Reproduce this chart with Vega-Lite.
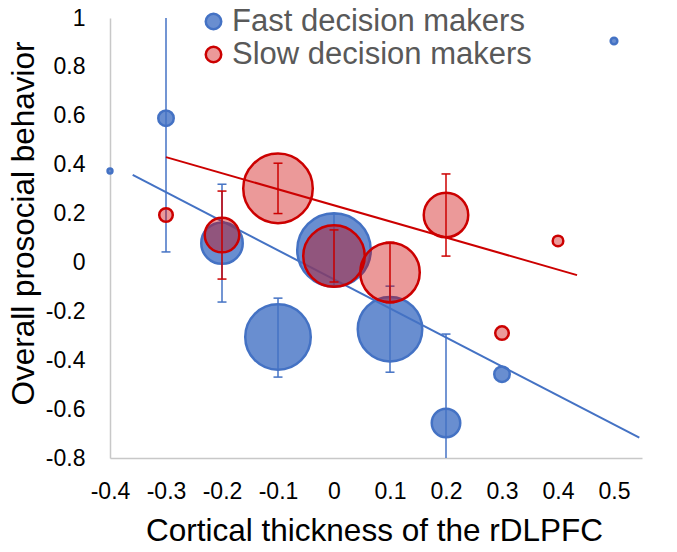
{
  "$schema": "https://vega.github.io/schema/vega-lite/v6.json",
  "width": 532,
  "height": 440,
  "autosize": "none",
  "padding": {"left": 110, "top": 18, "right": 35, "bottom": 94},
  "background": "white",
  "config": {
    "font": "Liberation Sans",
    "view": {"stroke": null},
    "axis": {
      "grid": false,
      "ticks": false,
      "tickSize": 0,
      "domainColor": "#C8C8C8",
      "domainWidth": 1.5,
      "labelFontSize": 23,
      "labelColor": "#000000",
      "labelOverlap": false,
      "labelFlush": false,
      "titleFontSize": 31.5,
      "titleFontWeight": "normal",
      "titleColor": "#000000"
    }
  },
  "datasets": {
    "pts": [
      {"group": "Fast decision makers", "x": -0.4, "y": 0.374, "n": 6},
      {"group": "Fast decision makers", "x": -0.3, "y": 0.59, "n": 60, "lo": 0.043, "hi": 1.137},
      {"group": "Fast decision makers", "x": -0.2, "y": 0.079, "n": 430, "lo": -0.162, "hi": 0.32},
      {"group": "Fast decision makers", "x": -0.1, "y": -0.305, "n": 1073, "lo": -0.469, "hi": -0.146},
      {"group": "Fast decision makers", "x": 0, "y": 0.051, "n": 1351, "lo": -0.096, "hi": 0.198},
      {"group": "Fast decision makers", "x": 0.1, "y": -0.273, "n": 1040, "lo": -0.449, "hi": -0.097},
      {"group": "Fast decision makers", "x": 0.2, "y": -0.657, "n": 203, "lo": -1.021, "hi": -0.293},
      {"group": "Fast decision makers", "x": 0.3, "y": -0.457, "n": 60},
      {"group": "Fast decision makers", "x": 0.5, "y": 0.906, "n": 11},
      {"group": "Slow decision makers", "x": -0.3, "y": 0.194, "n": 46},
      {"group": "Slow decision makers", "x": -0.2, "y": 0.112, "n": 298, "lo": -0.068, "hi": 0.292},
      {"group": "Slow decision makers", "x": -0.1, "y": 0.303, "n": 1208, "lo": 0.2, "hi": 0.406},
      {"group": "Slow decision makers", "x": 0, "y": 0.026, "n": 946, "lo": -0.08, "hi": 0.133},
      {"group": "Slow decision makers", "x": 0.1, "y": -0.041, "n": 885, "lo": -0.165, "hi": 0.083},
      {"group": "Slow decision makers", "x": 0.2, "y": 0.194, "n": 495, "lo": 0.026, "hi": 0.362},
      {"group": "Slow decision makers", "x": 0.3, "y": -0.289, "n": 46},
      {"group": "Slow decision makers", "x": 0.4, "y": 0.088, "n": 28}
    ],
    "trend": [
      {"group": "Fast decision makers", "x": -0.3595, "y": 0.358},
      {"group": "Fast decision makers", "x": 0.5452, "y": -0.717},
      {"group": "Slow decision makers", "x": -0.3, "y": 0.431},
      {"group": "Slow decision makers", "x": 0.434, "y": -0.052}
    ]
  },
  "encoding": {
    "x": {
      "field": "x",
      "type": "quantitative",
      "scale": {"domain": [-0.4, 0.55], "nice": false, "zero": false},
      "axis": {
        "values": [-0.4, -0.3, -0.2, -0.1, 0, 0.1, 0.2, 0.3, 0.4, 0.5],
        "labelExpr": "'' + datum.value",
        "labelPadding": 22,
        "title": "Cortical thickness of the rDLPFC",
        "titleX": 264,
        "titleY": 82,
        "titleBaseline": "alphabetic",
        "titleAnchor": "middle"
      }
    },
    "y": {
      "field": "y",
      "type": "quantitative",
      "scale": {"domain": [-0.8, 1], "nice": false, "zero": false},
      "axis": {
        "values": [-0.8, -0.6, -0.4, -0.2, 0, 0.2, 0.4, 0.6, 0.8, 1],
        "labelExpr": "'' + datum.value",
        "labelPadding": 25,
        "title": "Overall prosocial behavior",
        "titleAngle": -90,
        "titleX": -77,
        "titleY": 205,
        "titleBaseline": "alphabetic",
        "titleAlign": "center"
      }
    }
  },
  "layer": [
    {
      "data": {"name": "pts"},
      "transform": [{"filter": "datum.group == 'Fast decision makers'"}],
      "mark": {"type": "circle", "opacity": 1, "strokeWidth": 2.5},
      "encoding": {
        "size": {"field": "n", "type": "quantitative", "scale": {"type": "linear", "domain": [0, 1600], "range": [0, 6400]}, "legend": null},
        "fill": {
          "field": "group", "type": "nominal",
          "scale": {"domain": ["Fast decision makers", "Slow decision makers"], "range": ["rgba(68,114,196,0.8)", "rgba(204,0,0,0.4)"]},
          "legend": {"title": null, "orient": "none", "legendX": 88, "legendY": -12, "symbolType": "circle", "symbolSize": 240, "symbolStrokeWidth": 2.5, "labelFontSize": 31, "labelColor": "#595959", "labelOffset": 3, "labelLimit": 0, "rowPadding": 1, "padding": 0}
        },
        "stroke": {
          "field": "group", "type": "nominal",
          "scale": {"domain": ["Fast decision makers", "Slow decision makers"], "range": ["#4472C4", "#CC0000"]},
          "legend": {"title": null, "orient": "none", "legendX": 88, "legendY": -12, "symbolType": "circle", "symbolSize": 240, "symbolStrokeWidth": 2.5, "labelFontSize": 31, "labelColor": "#595959", "labelOffset": 3, "labelLimit": 0, "rowPadding": 1, "padding": 0}
        }
      }
    },
    {
      "data": {"name": "pts"},
      "transform": [{"filter": "datum.group == 'Fast decision makers' && isValid(datum.lo)"}],
      "mark": {"type": "rule", "color": "#4472C4", "strokeWidth": 1.5, "clip": true},
      "encoding": {"y": {"field": "lo", "type": "quantitative"}, "y2": {"field": "hi"}}
    },
    {
      "data": {"name": "pts"},
      "transform": [{"filter": "datum.group == 'Fast decision makers' && isValid(datum.lo)"}, {"fold": ["lo", "hi"], "as": ["end", "val"]}],
      "mark": {"type": "tick", "orient": "horizontal", "color": "#4472C4", "size": 9, "thickness": 1.5, "opacity": 1, "clip": true},
      "encoding": {"y": {"field": "val", "type": "quantitative"}}
    },
    {
      "data": {"name": "trend"},
      "transform": [{"filter": "datum.group == 'Fast decision makers'"}],
      "mark": {"type": "line", "color": "#4472C4", "strokeWidth": 2},
      "encoding": {}
    },
    {
      "data": {"name": "pts"},
      "transform": [{"filter": "datum.group == 'Slow decision makers'"}],
      "mark": {"type": "circle", "opacity": 1, "strokeWidth": 2.5},
      "encoding": {
        "size": {"field": "n", "type": "quantitative", "scale": {"type": "linear", "domain": [0, 1600], "range": [0, 6400]}, "legend": null},
        "fill": {"field": "group", "type": "nominal"},
        "stroke": {"field": "group", "type": "nominal"}
      }
    },
    {
      "data": {"name": "pts"},
      "transform": [{"filter": "datum.group == 'Slow decision makers' && isValid(datum.lo)"}],
      "mark": {"type": "rule", "color": "#CC0000", "strokeWidth": 1.5, "clip": true},
      "encoding": {"y": {"field": "lo", "type": "quantitative"}, "y2": {"field": "hi"}}
    },
    {
      "data": {"name": "pts"},
      "transform": [{"filter": "datum.group == 'Slow decision makers' && isValid(datum.lo)"}, {"fold": ["lo", "hi"], "as": ["end", "val"]}],
      "mark": {"type": "tick", "orient": "horizontal", "color": "#CC0000", "size": 9, "thickness": 1.5, "opacity": 1, "clip": true},
      "encoding": {"y": {"field": "val", "type": "quantitative"}}
    },
    {
      "data": {"name": "trend"},
      "transform": [{"filter": "datum.group == 'Slow decision makers'"}],
      "mark": {"type": "line", "color": "#CC0000", "strokeWidth": 2},
      "encoding": {}
    }
  ]
}
